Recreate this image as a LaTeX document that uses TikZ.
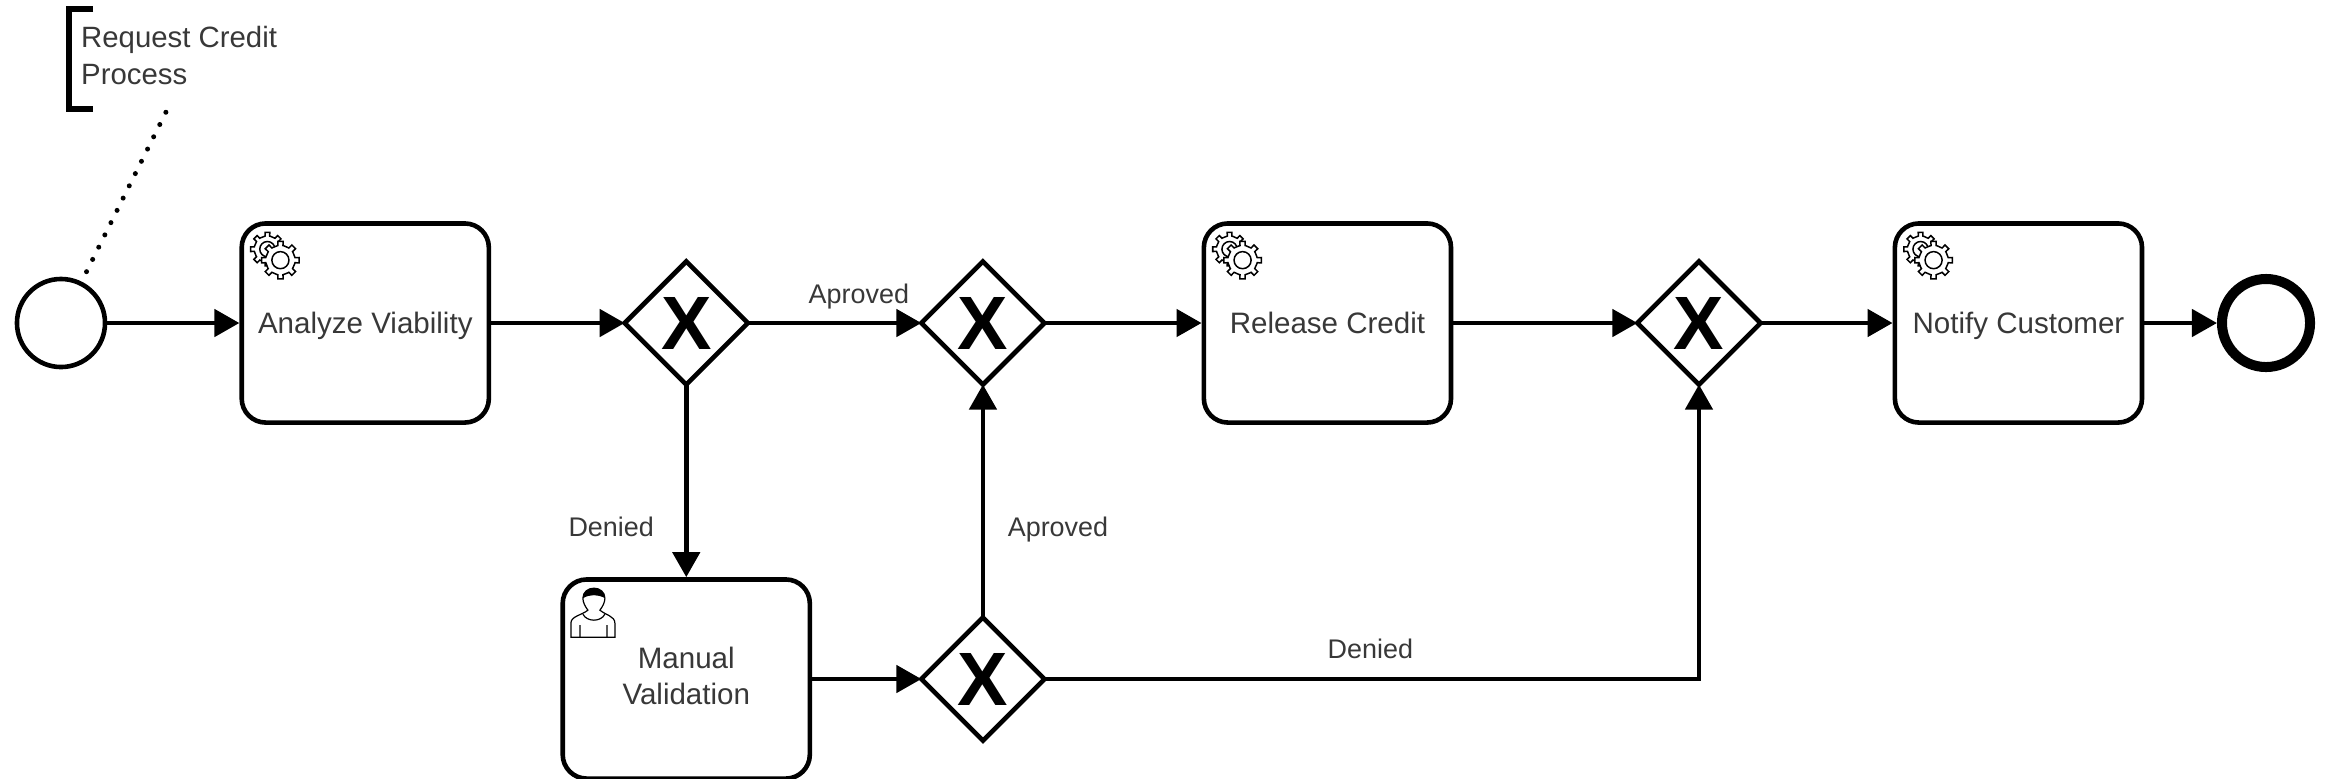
\documentclass[tikz,border=0pt]{standalone}
\usepackage{fontspec}
\setsansfont{Liberation Sans}
\usetikzlibrary{arrows.meta,positioning,shapes.geometric}

\begin{document}
\begin{tikzpicture}[
  x=0.01cm,y=-0.01cm,
  font=\sffamily,
  every node/.style={align=center,text=black!78},
  task/.style={draw=black,line width=.046cm,rounded corners=.24cm,fill=white,text depth=0pt,
    minimum width=2.47cm,minimum height=1.99cm,inner sep=0pt,font=\sffamily\fontsize{8.4}{10.1}\selectfont},
  gateway/.style={draw=black,line width=.046cm,diamond,aspect=1,fill=white,inner sep=0pt,outer sep=0pt,
    minimum width=1.23cm,minimum height=1.23cm},
  cross/.style={font=\sffamily\bfseries\fontsize{21.5}{21.5}\selectfont,text=black,inner sep=0pt},
  startevent/.style={draw=black,line width=.046cm,circle,fill=white,minimum size=.88cm,inner sep=0pt},
  endevent/.style={startevent,line width=.1cm},
  flow/.style={-{Triangle[length=.25cm,width=.27cm]},line width=.046cm,black},
  lbl/.style={font=\sffamily\fontsize{7.66}{9}\selectfont,inner sep=0pt,text depth=0pt},
  note/.style={lbl,font=\sffamily\fontsize{8.35}{10.3}\selectfont,align=left,anchor=north west},
  assoc/.style={line width=.05cm,line cap=round,dash pattern=on 0pt off .1369cm},
  gears/.pic={
    \foreach \cx/\cy/\rr in {28/28/17,41/39/19}{
      \draw[line width=.015cm,fill=white,shift={(\cx,\cy)}] (-32.5:.78*\rr)
        \foreach \a in {0,45,...,315}{
          -- (\a-32.5:.78*\rr) -- (\a-10:.78*\rr) -- (\a-8:\rr) -- (\a+8:\rr) -- (\a+10:.78*\rr)
        } -- cycle;
      \draw[line width=.015cm] (\cx,\cy) circle[radius=.45*\rr];
    }
  },
  person/.pic={
    \draw[line width=.012cm,fill=white] (9,60)--(9,46) .. controls (9,39) and (20,38) .. (26,33)
      .. controls (23,29) and (21,25) .. (21,21) .. controls (21,15) and (26,11) .. (32,11)
      .. controls (38,11) and (43,15) .. (43,21) .. controls (43,25) and (41,29) .. (38,33)
      .. controls (44,38) and (53,39) .. (53,46) -- (53,60) -- cycle;
    \fill (21,21) .. controls (21,15) and (26,11) .. (32,11) .. controls (38,11) and (43,15) .. (43,21)
      .. controls (36,17) and (28,17) .. cycle;
    \draw[line width=.012cm] (21,37) .. controls (25,45) and (39,45) .. (43,37)
      (18,48)--(18,60) (45,48)--(45,60);
  }]

  \useasboundingbox (0,0) rectangle (2331,778);

  % Hauptzeile
  \node[startevent] (start) at (61,323) {};
  \node[task,right=1.32cm of start] (analyze) {Analyze Viability};
  \node[gateway,right=1.335cm of analyze] (gwviable) {};
  \node[gateway,right=1.735cm of gwviable] (gwjoin) {};
  \node[task,right=1.57cm of gwjoin] (release) {Release Credit};
  \node[gateway,right=1.84cm of release] (gwmerge) {};
  \node[task,right=1.32cm of gwmerge] (notify) {Notify Customer};
  \node[endevent] (finish) at (2266,323) {};

  % untere Zeile
  \node[task,below=1.925cm of gwviable,text depth=.06cm] (manual) {Manual\\Validation};
  \node[gateway] (gwmanual) at (gwjoin |- manual) {};

  % Symbole
  \foreach \g in {gwviable,gwjoin,gwmerge,gwmanual}
    \node[cross] at (\g) {X};
  \pic at (analyze.north west) {gears};
  \pic at (release.north west) {gears};
  \pic at (notify.north west) {gears};
  \pic at ([xshift=.015cm]manual.north west) {person};

  % Anmerkung
  \node[note] (remark) at (80.5,26) {Request Credit\\Process};
  \draw[line width=.055cm] (93,9) -| (69,109) -- (93,109);
  \coordinate (remarkfoot) at (166,112);
  \draw[assoc,shorten <=.573cm] (start.center) -- (remarkfoot);

  % Fluss
  \draw[flow] (start) -- (analyze);
  \draw[flow] (analyze) -- (gwviable);
  \draw[flow] (gwviable) -- node[lbl,pos=.64,yshift=.29cm] {Aproved} (gwjoin);
  \draw[flow] (gwjoin) -- (release);
  \draw[flow] (release) -- (gwmerge);
  \draw[flow] (gwmerge) -- (notify);
  \draw[flow] (notify) -- (finish);
  \draw[flow] (gwviable) -- node[lbl,pos=.74,xshift=-.75cm] {Denied} (manual);
  \draw[flow] (manual) -- (gwmanual);
  \draw[flow] (gwmanual) -- node[lbl,pos=.39,xshift=.75cm] {Aproved} (gwjoin);
  \draw[flow] (gwmanual) -| node[lbl,pos=.249,yshift=.3cm] {Denied} (gwmerge);
\end{tikzpicture}
\end{document}
